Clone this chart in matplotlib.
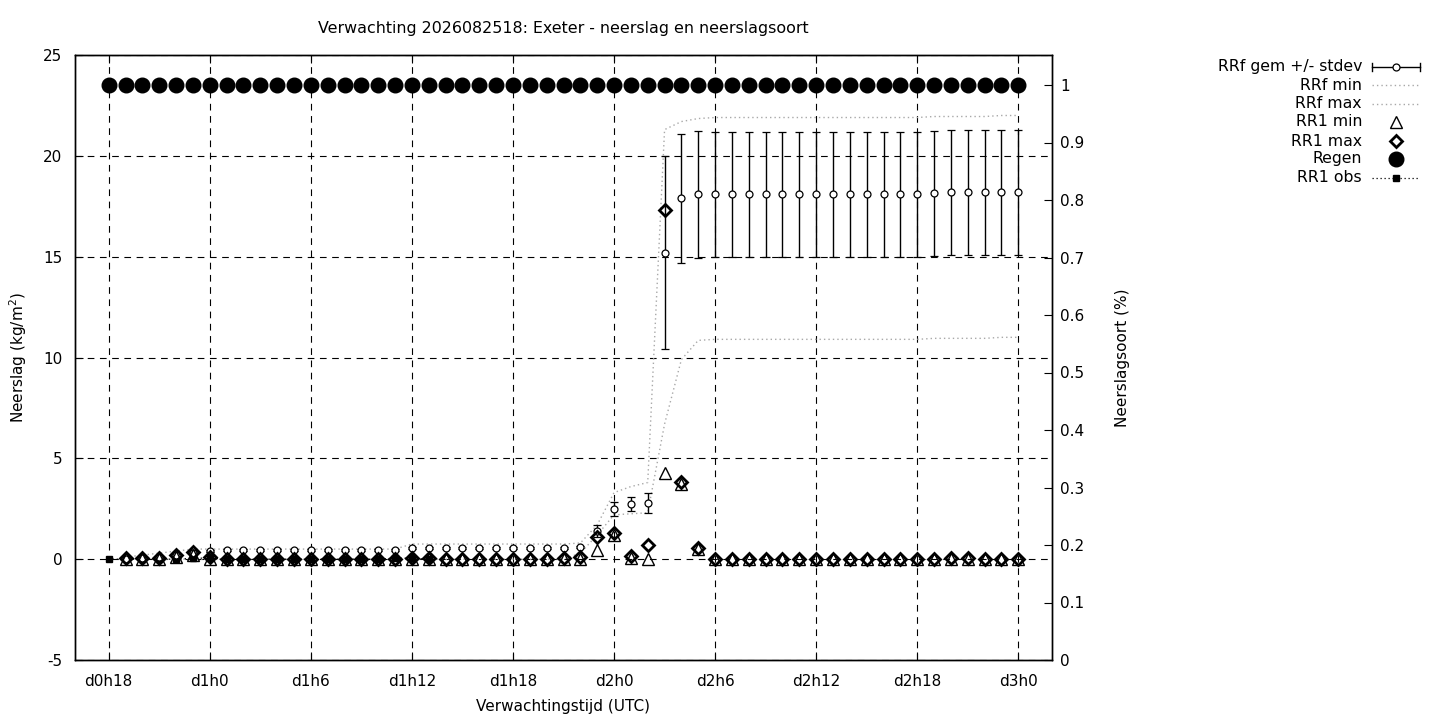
import matplotlib
matplotlib.use("Agg")
import matplotlib.pyplot as plt
from matplotlib.lines import Line2D

plt.rcParams.update({
    'font.family': 'DejaVu Sans',
    'font.size': 11,
    'axes.unicode_minus': False,
})

# hours since d0h0
title = 'Verwachting 2026082518: Exeter - neerslag en neerslagsoort'
tick_hours = [18, 24, 30, 36, 42, 48, 54, 60, 66, 72]
tick_labels = ['d0h18', 'd1h0', 'd1h6', 'd1h12', 'd1h18',
               'd2h0', 'd2h6', 'd2h12', 'd2h18', 'd3h0']

fc_hours = list(range(19, 73))
rrf_mean = [0.0, 0.05, 0.1, 0.2, 0.3, 0.4,
            0.45, 0.45, 0.45, 0.45, 0.45, 0.45, 0.45, 0.45, 0.45, 0.45, 0.45,
            0.55, 0.55, 0.55, 0.55, 0.55, 0.55, 0.55, 0.55, 0.55, 0.55,
            0.6, 1.4, 2.5, 2.75, 2.8, 15.2, 17.9, 18.1,
            18.1, 18.1, 18.1, 18.1, 18.1, 18.1, 18.1, 18.1, 18.1, 18.1, 18.1, 18.1, 18.1,
            18.15, 18.2, 18.2, 18.2, 18.2, 18.2]
rrf_sd = [0.05, 0.05, 0.05, 0.05, 0.05, 0.05,
          0.05, 0.05, 0.05, 0.05, 0.05, 0.05, 0.05, 0.05, 0.05, 0.05, 0.05,
          0.05, 0.05, 0.05, 0.05, 0.05, 0.05, 0.05, 0.05, 0.05, 0.05,
          0.05, 0.3, 0.35, 0.35, 0.5, 4.8, 3.2, 3.15,
          3.1, 3.1, 3.1, 3.1, 3.1, 3.1, 3.1, 3.1, 3.1, 3.1, 3.1, 3.1, 3.1,
          3.1, 3.1, 3.1, 3.1, 3.1, 3.1]
rrf_min = [0.0, 0.0, 0.0, 0.0, 0.0, 0.0,
           0.0, 0.0, 0.0, 0.0, 0.0, 0.0, 0.0, 0.0, 0.0, 0.0, 0.0,
           0.0, 0.0, 0.0, 0.0, 0.0, 0.0, 0.0, 0.0, 0.0, 0.0,
           0.3, 1.2, 2.2, 2.25, 2.3, 6.7, 9.9, 10.85,
           10.9, 10.9, 10.9, 10.9, 10.9, 10.9, 10.9, 10.9, 10.9, 10.9, 10.9, 10.9, 10.9,
           10.95, 10.95, 10.95, 10.95, 11.0, 11.0]
rrf_max = [0.1, 0.2, 0.3, 0.4, 0.5, 0.5,
           0.5, 0.5, 0.5, 0.5, 0.5, 0.5, 0.5, 0.5, 0.5, 0.5, 0.5,
           0.75, 0.75, 0.75, 0.75, 0.75, 0.75, 0.75, 0.75, 0.75, 0.75,
           0.8, 1.7, 3.3, 3.6, 3.8, 21.3, 21.7, 21.85,
           21.9, 21.9, 21.9, 21.9, 21.9, 21.9, 21.9, 21.9, 21.9, 21.9, 21.9, 21.9, 21.9,
           21.95, 21.95, 21.95, 21.95, 22.0, 22.0]
rr1_min = [0.0, 0.0, 0.0, 0.1, 0.2, 0.0,
           0.0, 0.0, 0.0, 0.0, 0.0, 0.0, 0.0, 0.0, 0.0, 0.0, 0.0,
           0.0, 0.0, 0.0, 0.0, 0.0, 0.0, 0.0, 0.0, 0.0, 0.0,
           0.0, 0.45, 1.2, 0.05, 0.0, 4.25, 3.75, 0.5,
           0.0, 0.0, 0.0, 0.0, 0.0, 0.0, 0.0, 0.0, 0.0, 0.0, 0.0, 0.0, 0.0,
           0.0, 0.0, 0.0, 0.0, 0.0, 0.0]
rr1_max = [0.05, 0.05, 0.05, 0.2, 0.35, 0.1,
           0.0, 0.0, 0.0, 0.0, 0.0, 0.0, 0.0, 0.0, 0.0, 0.0, 0.0,
           0.05, 0.05, 0.0, 0.0, 0.0, 0.0, 0.0, 0.0, 0.0, 0.05,
           0.1, 1.1, 1.3, 0.15, 0.7, 17.3, 3.85, 0.55,
           0.0, 0.0, 0.0, 0.0, 0.0, 0.0, 0.0, 0.0, 0.0, 0.0, 0.0, 0.0, 0.0,
           0.0, 0.05, 0.05, 0.0, 0.0, 0.0]

regen_hours = list(range(18, 73))
regen = [1.0, 1.0, 1.0, 1.0, 1.0, 1.0, 1.0, 1.0, 1.0, 1.0, 1.0,
         1.0, 1.0, 1.0, 1.0, 1.0, 1.0, 1.0, 1.0, 1.0, 1.0, 1.0,
         1.0, 1.0, 1.0, 1.0, 1.0, 1.0, 1.0, 1.0, 1.0, 1.0, 1.0,
         1.0, 1.0, 1.0, 1.0, 1.0, 1.0, 1.0, 1.0, 1.0, 1.0, 1.0,
         1.0, 1.0, 1.0, 1.0, 1.0, 1.0, 1.0, 1.0, 1.0, 1.0, 1.0]

obs_hours = list(range(18, 38))
rr1_obs = [0.0, 0.0, 0.0, 0.0, 0.0, 0.05, 0.05, 0.0, 0.0, 0.0,
           0.0, 0.0, 0.0, 0.0, 0.0, 0.0, 0.0, 0.05, 0.05, 0.0]

GRAY = '#a8a8a8'
DOT = (0, (1, 2.2))
DASH = (0, (6, 5))

fig = plt.figure(figsize=(14.4, 7.2), dpi=100)
ax = fig.add_axes([75/1440, 60/720, 977/1440, 605/720])
ax2 = ax.twinx()

# left axis data
ax.plot(fc_hours, rrf_min, color=GRAY, ls=DOT, lw=1, zorder=3)
ax.plot(fc_hours, rrf_max, color=GRAY, ls=DOT, lw=1, zorder=3)
ax.plot(obs_hours, rr1_obs, color='black', ls=DOT, lw=0.9, marker='s', ms=5,
        zorder=4)
ax.errorbar(fc_hours, rrf_mean, yerr=rrf_sd, fmt='o', color='black', ms=5,
            mfc='white', mec='black', mew=0.9, elinewidth=1, capsize=3,
            capthick=1, zorder=5)
ax.plot(fc_hours, rr1_min, ls='none', marker='^', ms=9.3, mfc='none',
        mec='black', mew=1, zorder=6)
ax.plot(fc_hours, rr1_max, ls='none', marker='D', ms=6.5, mfc='none',
        mec='black', mew=2, zorder=6)

ax2.plot(regen_hours, regen, ls='none', marker='o', ms=10.5, color='black')

ax.set_xlim(16, 74)
ax.set_ylim(-5, 25)
ax.set_yticks([-5, 0, 5, 10, 15, 20, 25])
ax.set_xticks(tick_hours)
ax.set_xticklabels(tick_labels)
ax2.set_ylim(0, 1 + 30/575)
ax2.set_yticks([0, 0.1, 0.2, 0.3, 0.4, 0.5, 0.6, 0.7, 0.8, 0.9, 1.0])
ax2.set_yticklabels(['0', '0.1', '0.2', '0.3', '0.4', '0.5', '0.6', '0.7',
                     '0.8', '0.9', '1'])

ax.grid(True, color='black', ls=DASH, lw=0.8)
ax.tick_params(axis='both', direction='in', length=6, width=0.8)
ax.tick_params(axis='x', pad=10, top=True)
ax.tick_params(axis='y', pad=9)
ax2.tick_params(axis='y', direction='in', length=6, width=0.8, pad=6)
for a in (ax, ax2):
    for s in a.spines.values():
        s.set_linewidth(1)

ax.set_zorder(ax2.get_zorder() + 1)
ax.patch.set_visible(False)

fig.text(563.5/1440, 1 - 28/720, title, ha='center', va='center', fontsize=11.4)
fig.text(563.5/1440, 1 - 706/720, 'Verwachtingstijd (UTC)', ha='center', va='center')
fig.text(18/1440, 1 - 358/720, 'Neerslag (kg/m$^2$)', ha='center', va='center',
         rotation=90)
fig.text(1123/1440, 1 - 358/720, 'Neerslagsoort (%)', ha='center', va='center',
         rotation=90)

# legend, gnuplot style (text right aligned, sample to the right)
entries = [
    ('RRf gem +/- stdev', 'err'),
    ('RRf min', 'gray'),
    ('RRf max', 'gray'),
    ('RR1 min', 'tri'),
    ('RR1 max', 'dia'),
    ('Regen', 'dot'),
    ('RR1 obs', 'obs'),
]
rows = [67, 85, 104, 122, 141, 159, 178]
x0, x1, xm = 1372/1440, 1420/1440, 1396/1440
for (label, kind), yy in zip(entries, rows):
    y = 1 - yy/720
    fig.text(1362/1440, y, label, ha='right', va='center', fontsize=11.3)
    if kind == 'err':
        fig.add_artist(Line2D([x0, x1], [y, y], color='black', lw=1))
        for xc in (x0, x1):
            fig.add_artist(Line2D([xc, xc], [y - 4/720, y + 4/720], color='black', lw=1))
        fig.add_artist(Line2D([xm], [y], marker='o', ms=5, mfc='white', mec='black',
                              mew=0.9, ls='none'))
    elif kind == 'gray':
        fig.add_artist(Line2D([x0, x1], [y, y], color=GRAY, ls=DOT, lw=1))
    elif kind == 'tri':
        fig.add_artist(Line2D([xm], [y], marker='^', ms=9.3, mfc='none', mec='black',
                              mew=1, ls='none'))
    elif kind == 'dia':
        fig.add_artist(Line2D([xm], [y], marker='D', ms=6.5, mfc='none', mec='black',
                              mew=2, ls='none'))
    elif kind == 'dot':
        fig.add_artist(Line2D([xm], [y], marker='o', ms=10.5, color='black', ls='none'))
    else:
        fig.add_artist(Line2D([x0, x1], [y, y], color='black', ls=DOT, lw=0.9))
        fig.add_artist(Line2D([xm], [y], marker='s', ms=5, color='black', ls='none'))

fig.savefig('out.png', dpi=100)
